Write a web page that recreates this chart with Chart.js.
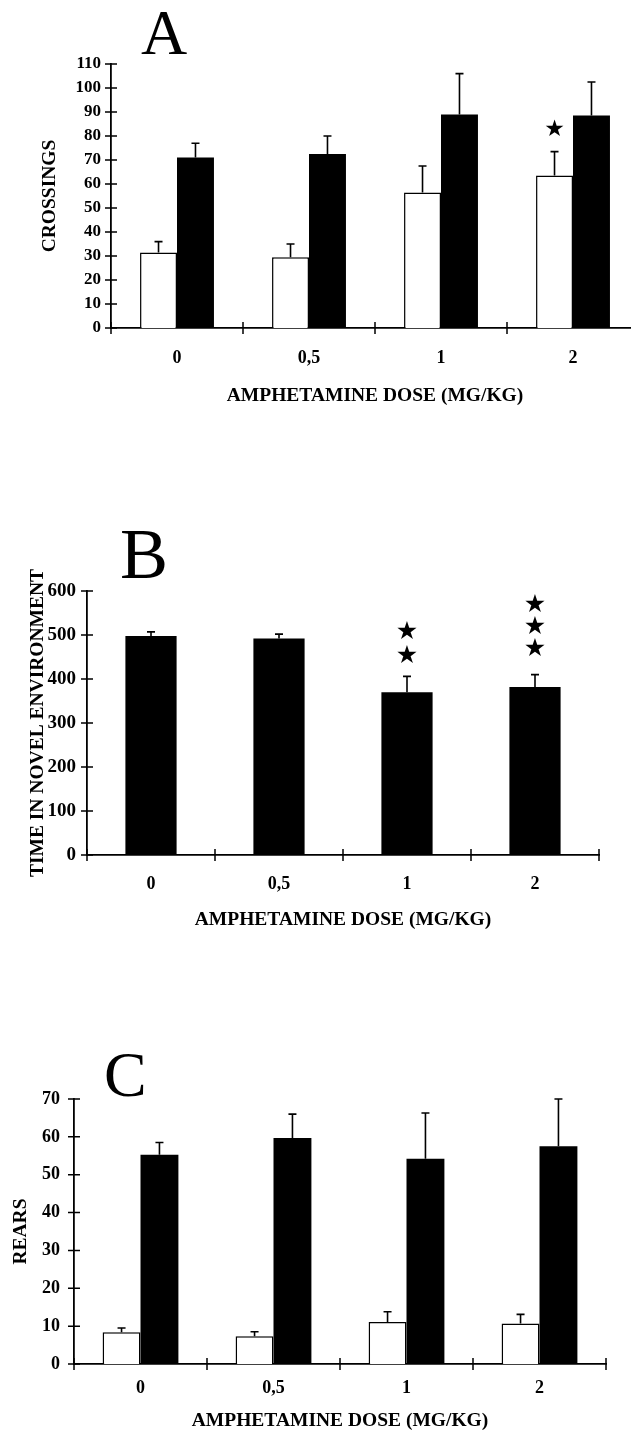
<!DOCTYPE html>
<html>
<head>
<meta charset="utf-8">
<script src="https://cdn.jsdelivr.net/npm/chart.js@4.4.0/dist/chart.umd.min.js"></script>
<style>
  html, body { margin:0; padding:0; background:#fff }
  body { width:631px; height:1431px; position:relative; overflow:hidden }
  .panel { position:absolute; left:0 }
  .letter { position:absolute; font-family:'Liberation Serif', 'Times New Roman', serif; line-height:1; color:#000 }
</style>
</head>
<body>
<div class="letter" style="left:141px;top:1px;font-size:64px">A</div>
<div class="letter" style="left:120px;top:518px;font-size:72px">B</div>
<div class="letter" style="left:104px;top:1043px;font-size:64px">C</div>

<div class="panel" style="top:0px"><canvas id="chA" width="640" height="420"></canvas></div>
<div class="panel" style="top:480px"><canvas id="chB" width="640" height="470"></canvas></div>
<div class="panel" style="top:1000px"><canvas id="chC" width="640" height="440"></canvas></div>

<script>
// dose groups (x categories)
const doses = ['0', '0,5', '1', '2'];
const xTitle = 'AMPHETAMINE DOSE (MG/KG)';

// A: crossings — white / black bars, error = +SEM height
const crossWhite    = [31.5, 29.5, 56.5, 63.5];
const crossWhiteErr = [4.5, 5.5, 11, 10];
const crossBlack    = [71, 72.5, 89, 88.5];
const crossBlackErr = [6, 7.5, 17, 14];
const crossStars    = [[], [], [], [82.5]];   // star marks over white bars

// B: time in novel environment
const timeNovel    = [498, 492, 370, 382];
const timeNovelErr = [9, 10, 36, 28];
const timeStars    = [[], [], [452, 505], [468, 516, 568]];

// C: rears
const rearsWhite    = [8.4, 7.3, 11.1, 10.7];
const rearsWhiteErr = [1.1, 1.2, 2.7, 2.4];
const rearsBlack    = [55.3, 59.7, 54.2, 57.5];
const rearsBlackErr = [3.2, 6.3, 12.1, 12.5];

const SERIF = "'Liberation Serif', 'Times New Roman', serif";
const INK = '#000';

// ticks that cross the axes, like the original
const crossTicks = {
  id: 'crossTicks',
  afterDraw(chart) {
    const { ctx, chartArea: a, scales: { x, y } } = chart;
    ctx.save();
    ctx.strokeStyle = INK;
    ctx.lineWidth = 1.5;
    ctx.beginPath();
    y.ticks.forEach(t => {
      const py = y.getPixelForValue(t.value);
      ctx.moveTo(a.left - 6, py); ctx.lineTo(a.left + 6, py);
    });
    for (let i = 0; i <= x.ticks.length; i++) {
      const px = x.getPixelForValue(i - 0.5);
      ctx.moveTo(px, a.bottom - 6); ctx.lineTo(px, a.bottom + 6);
    }
    ctx.stroke();
    ctx.restore();
  }
};

// one-sided error bars + significance stars
const errorBars = {
  id: 'errorBars',
  afterDatasetsDraw(chart) {
    const { ctx, scales: { y } } = chart;
    ctx.save();
    ctx.strokeStyle = INK;
    ctx.fillStyle = INK;
    ctx.lineWidth = 1.6;
    chart.data.datasets.forEach((ds, di) => {
      const meta = chart.getDatasetMeta(di);
      meta.data.forEach((bar, i) => {
        const top = y.getPixelForValue(ds.data[i] + ds.errors[i]);
        ctx.beginPath();
        ctx.moveTo(bar.x, bar.y); ctx.lineTo(bar.x, top);
        ctx.moveTo(bar.x - 4, top); ctx.lineTo(bar.x + 4, top);
        ctx.stroke();
        if (ds.stars && ds.stars[i]) {
          ctx.font = (ds.starSize || 20) + "px 'DejaVu Sans'";
          ctx.textAlign = 'center';
          ctx.textBaseline = 'middle';
          ds.stars[i].forEach(v => ctx.fillText('\u2605', bar.x, y.getPixelForValue(v)));
        }
      });
    });
    ctx.restore();
  }
};

function makePanel(id, p) {
  const titleFont = { family: SERIF, size: 19.5, weight: 'bold' };
  const lh = titleFont.size * 1.2;
  const xH = p.xTitleY - p.area.bottom + lh / 2;
  new Chart(document.getElementById(id), {
    type: 'bar',
    data: { labels: doses, datasets: p.datasets },
    options: {
      responsive: false,
      animation: false,
      layout: {
        padding: {
          left: 0,
          top: p.area.top - p.canvasTop,
          right: 640 - p.area.right,
          bottom: p.canvasTop + p.canvasH - p.area.bottom - xH
        }
      },
      plugins: { legend: { display: false }, tooltip: { enabled: false } },
      datasets: { bar: { categoryPercentage: p.catPct, barPercentage: 1, borderSkipped: 'bottom' } },
      scales: {
        x: {
          grid: { display: false, drawTicks: false },
          border: { display: true, color: INK, width: 1.8 },
          ticks: { color: INK, font: { family: SERIF, size: 18, weight: 'bold' }, padding: p.xTickPad },
          title: { display: true, text: xTitle, color: INK, font: titleFont, padding: 0 },
          afterFit: s => { s.height = xH; }
        },
        y: {
          min: 0, max: p.yMax,
          grid: { display: false, drawTicks: false },
          border: { display: true, color: INK, width: 1.8 },
          ticks: { stepSize: p.yStep, color: INK, font: { family: SERIF, size: p.yTickSize, weight: 'bold' }, padding: p.yTickPad },
          title: { display: true, text: p.yTitle, color: INK, font: titleFont, padding: { top: p.yTitleX - lh / 2, bottom: 0 } },
          afterFit: s => { s.width = p.area.left; }
        }
      }
    },
    plugins: [errorBars, crossTicks]
  });
}

const whiteStyle = { backgroundColor: '#fff', borderColor: INK, borderWidth: 1.5 };
const blackStyle = { backgroundColor: INK, borderColor: INK, borderWidth: 0 };

makePanel('chA', {
  canvasTop: 0, canvasH: 420,
  area: { left: 111, right: 639, top: 64, bottom: 328 },
  yMax: 110, yStep: 10, yTickSize: 17, yTickPad: 10,
  yTitle: 'CROSSINGS', yTitleX: 50,
  xTickPad: 20, xTitleY: 396, catPct: 0.56,
  datasets: [
    Object.assign({ data: crossWhite, errors: crossWhiteErr, stars: crossStars, starSize: 23 }, whiteStyle),
    Object.assign({ data: crossBlack, errors: crossBlackErr }, blackStyle)
  ]
});

makePanel('chB', {
  canvasTop: 480, canvasH: 470,
  area: { left: 87, right: 599, top: 591, bottom: 855 },
  yMax: 600, yStep: 100, yTickSize: 19, yTickPad: 11,
  yTitle: 'TIME IN NOVEL ENVIRONMENT', yTitleX: 38,
  xTickPad: 19, xTitleY: 920, catPct: 0.40,
  datasets: [
    Object.assign({ data: timeNovel, errors: timeNovelErr, stars: timeStars, starSize: 25 }, blackStyle)
  ]
});

makePanel('chC', {
  canvasTop: 1000, canvasH: 440,
  area: { left: 74, right: 606, top: 1099, bottom: 1364 },
  yMax: 70, yStep: 10, yTickSize: 18, yTickPad: 14,
  yTitle: 'REARS', yTitleX: 21,
  xTickPad: 14, xTitleY: 1421, catPct: 0.57,
  datasets: [
    Object.assign({ data: rearsWhite, errors: rearsWhiteErr }, whiteStyle),
    Object.assign({ data: rearsBlack, errors: rearsBlackErr }, blackStyle)
  ]
});
</script>
</body>
</html>
